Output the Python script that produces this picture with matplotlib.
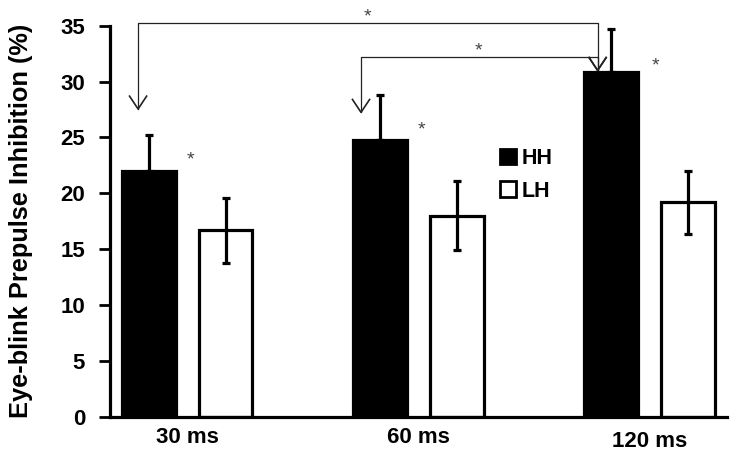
import numpy as np
import matplotlib as mpl
mpl.use("Agg")
import matplotlib.pyplot as plt

mpl.rcParams['font.family'] = ['Liberation Sans', 'DejaVu Sans']

#-----------------------------------------------------------------------------
# data
groups = ["30 ms", "60 ms", "120 ms"]
hh_mean = [22.0, 24.8, 30.9]
hh_err = [3.2, 4.0, 3.8]
lh_mean = [16.7, 18.0, 19.2]
lh_err = [2.9, 3.1, 2.8]
series = ["HH", "LH"]

# significance: (from group, to group) comparisons on HH bars
comparisons = [(0, 2), (1, 2)]
#-----------------------------------------------------------------------------

fig = plt.figure(figsize=(7.34, 4.63), dpi=100)
ax = fig.add_axes([0.150, 0.0994, 0.840, 0.8451])

x = np.arange(len(groups))
w = 0.233 ; off = 0.166
lw = 2.3

ax.bar(x - off, hh_mean, w, color="black", edgecolor="black", linewidth=lw, label=series[0], zorder=2)
ax.bar(x + off, lh_mean, w, color="white", edgecolor="black", linewidth=lw, label=series[1], zorder=2)
ax.errorbar(x - off, hh_mean, yerr=[np.zeros(3), hh_err], fmt="none", ecolor="black",
            elinewidth=lw, capsize=2.9, capthick=lw, zorder=3)
ax.errorbar(x + off, lh_mean, yerr=lh_err, fmt="none", ecolor="black",
            elinewidth=lw, capsize=2.9, capthick=lw, zorder=3)

def star(xs, ys):
    # glyph centre sits ~0.58 em above baseline
    ax.annotate("*", (xs, ys), xytext=(0, -8.0), textcoords="offset points",
                ha="center", va="baseline", fontsize=14, color="#444444",
                annotation_clip=False)

# asterisks beside HH bars
star_pos = [(0.013, 23.6), (1.015, 26.3), (2.026, 32.0)]
for (xs, ys) in star_pos:
    star(xs, ys)

# brackets with arrows
bx_left = [-0.212, 0.752]
by_top = [35.25, 32.2]
tips_left = [27.55, 27.25]
bx_right = 1.775
star_br = [(0.78, 36.4), (1.26, 33.3)]
for k, (a, b) in enumerate(comparisons):
    xl = bx_left[k] ; yt = by_top[k]
    ax.plot([xl, xl, bx_right, bx_right], [tips_left[k], yt, yt, hh_mean[b] + 0.1],
            color="#222222", lw=0.9, clip_on=False, zorder=4)
    for (xa, ya) in [(xl, tips_left[k]), (bx_right, hh_mean[b] + 0.1)]:
        ax.plot([xa - 0.037, xa, xa + 0.037], [ya + 1.15, ya, ya + 1.15],
                color="#222222", lw=1.2, clip_on=False, zorder=4)
    star(*star_br[k])

ax.set_xlim(-0.333, 2.333)
ax.set_ylim(0, 35)
ax.set_yticks(np.arange(0, 36, 5))
ax.set_xticks(x)
ax.set_xticklabels(groups, fontsize=16, fontweight="bold")
ax.tick_params(axis="x", length=0, pad=7)
ax.tick_params(axis="y", length=8, width=2, labelsize=16, pad=10)
for lab in ax.get_yticklabels():
    lab.set_fontweight("bold")
ax.get_xticklabels()[2].set_y(-0.01)

for s in ["top", "right"]:
    ax.spines[s].set_visible(False)
for s in ["left", "bottom"]:
    ax.spines[s].set_linewidth(2.3)

ax.set_ylabel("Eye-blink Prepulse Inhibition (%)", fontsize=18.3, fontweight="bold", labelpad=20)

leg = ax.legend(loc="upper left", bbox_to_anchor=(0.615, 0.715), frameon=False,
                prop={"weight": "bold", "size": 15.5}, handlelength=0.75, handleheight=0.75,
                handletextpad=0.25, labelspacing=0.55, borderpad=0)
for h in leg.legend_handles:
    h.set_linewidth(2.0)

fig.savefig("out.png", dpi=100)
